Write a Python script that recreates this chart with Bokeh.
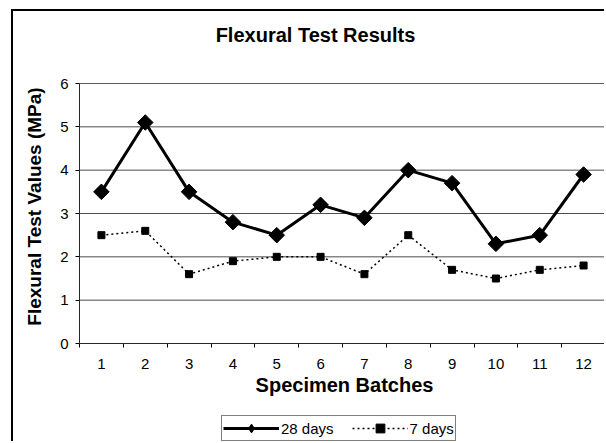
import math
from bokeh.plotting import figure
from bokeh.models import FixedTicker, Legend, LegendItem, Range1d, Label, BoxAnnotation
from bokeh.embed import file_html
from bokeh.resources import INLINE

batches = [1, 2, 3, 4, 5, 6, 7, 8, 9, 10, 11, 12]
batch_labels = ["1", "2", "3", "4", "5", "6", "7", "8", "9", "10", "11", "12"]
strength_28 = [3.5, 5.1, 3.5, 2.8, 2.5, 3.2, 2.9, 4.0, 3.7, 2.3, 2.5, 3.9]
strength_7 = [2.5, 2.6, 1.6, 1.9, 2.0, 2.0, 1.6, 2.5, 1.7, 1.5, 1.7, 1.8]
y_ticks = [0, 1, 2, 3, 4, 5, 6]

FONT = "Liberation Sans"

# layout (pixels within the canvas)
W, H = 593, 432
PLOT_L, PLOT_R, PLOT_T, PLOT_B = 66, 592, 72, 332
x_lo, x_hi = 0.5, 12.5
y_lo, y_hi = y_ticks[0], y_ticks[-1]
kx = (PLOT_R - PLOT_L) / (x_hi - x_lo)
ky = (PLOT_B - PLOT_T) / (y_hi - y_lo)
xs = x_lo - PLOT_L / kx
xe = xs + W / kx
ye = y_hi + PLOT_T / ky
ys = ye - H / ky

p = figure(width=W, height=H, output_backend="svg", toolbar_location=None, title=None,
           x_range=Range1d(xs, xe), y_range=Range1d(ys, ye),
           min_border=0, min_border_left=0, min_border_right=0,
           min_border_top=0, min_border_bottom=0,
           background_fill_color="white", border_fill_color="white")
p.styles = {"border-left": "2px solid black", "border-top": "2px solid black",
            "margin-left": "11px", "margin-top": "9px"}
p.outline_line_color = None
p.xgrid.grid_line_color = None
p.ygrid.grid_line_color = None

# horizontal gridlines from the y ticks
p.segment(x0=[x_lo] * len(y_ticks), x1=[x_hi] * len(y_ticks), y0=y_ticks, y1=y_ticks,
          line_color="#4d4d4d", line_width=1)
p.add_layout(BoxAnnotation(left=x_lo, right=x_hi, bottom=y_lo, top=y_hi,
                           fill_color=None, line_color="#808080", line_width=1))

# x axis
xa = p.xaxis[0]
xa.fixed_location = y_lo
xa.bounds = (x_lo, x_hi)
xa.ticker = FixedTicker(ticks=batches, minor_ticks=[b - 0.5 for b in batches] + [x_hi])
xa.major_label_overrides = {b: lab for b, lab in zip(batches, batch_labels)}
xa.major_tick_out = 0
xa.major_tick_in = 0
xa.minor_tick_out = 4
xa.minor_tick_in = 0
xa.minor_tick_line_color = "black"
xa.axis_line_color = "black"
xa.major_label_text_font = FONT
xa.major_label_text_font_size = "15px"
xa.major_label_text_color = "black"
xa.major_label_standoff = 11

ya = p.yaxis[0]
ya.fixed_location = x_lo
ya.bounds = (y_lo, y_hi)
ya.ticker = FixedTicker(ticks=y_ticks)
ya.major_tick_out = 4
ya.major_tick_in = 0
ya.minor_tick_line_color = None
ya.axis_line_color = "black"
ya.major_tick_line_color = "black"
ya.major_label_text_font = FONT
ya.major_label_text_font_size = "15px"
ya.major_label_text_color = "black"
ya.major_label_standoff = 7

# series
l28 = p.line(batches, strength_28, line_color="black", line_width=3)
# diamond symbol for the legend, covered by the larger rotated squares
d28 = p.scatter(batches, strength_28, marker="diamond", size=11,
                fill_color="black", line_color="black")
s28 = p.scatter(batches, strength_28, marker="square", size=11, angle=math.pi / 4,
                fill_color="black", line_color="black")
l7 = p.line(batches, strength_7, line_color="black", line_width=1.5, line_dash="2 3")
s7 = p.scatter(batches, strength_7, marker="square", size=7,
               fill_color="black", line_color="black")

# titles
p.add_layout(Label(x=302, y=409, x_units="screen", y_units="screen",
                   text="Flexural Test Results", text_font=FONT, text_font_size="20px",
                   text_font_style="bold", text_color="black",
                   text_align="center", text_baseline="alphabetic"))
p.add_layout(Label(x=331, y=59, x_units="screen", y_units="screen",
                   text="Specimen Batches", text_font=FONT, text_font_size="20px",
                   text_font_style="bold", text_color="black",
                   text_align="center", text_baseline="alphabetic"))
p.add_layout(Label(x=21, y=237, x_units="screen", y_units="screen", angle=math.pi / 2,
                   text="Flexural Test Values (MPa)", text_font=FONT, text_font_size="19px",
                   text_font_style="bold", text_color="black",
                   text_align="center", text_baseline="alphabetic"))

legend = Legend(items=[LegendItem(label="28 days", renderers=[l28, d28]),
                       LegendItem(label="7 days", renderers=[l7, s7])],
                orientation="horizontal", location=(208, 2),
                label_text_font=FONT, label_text_font_size="15px",
                label_text_color="black", glyph_width=56, glyph_height=22,
                label_standoff=2, spacing=18, padding=1, margin=0,
                border_line_color="black", border_line_width=1,
                label_height=16, background_fill_color="white", background_fill_alpha=1)
p.add_layout(legend)

open("out.html", "w").write(file_html(p, INLINE))
